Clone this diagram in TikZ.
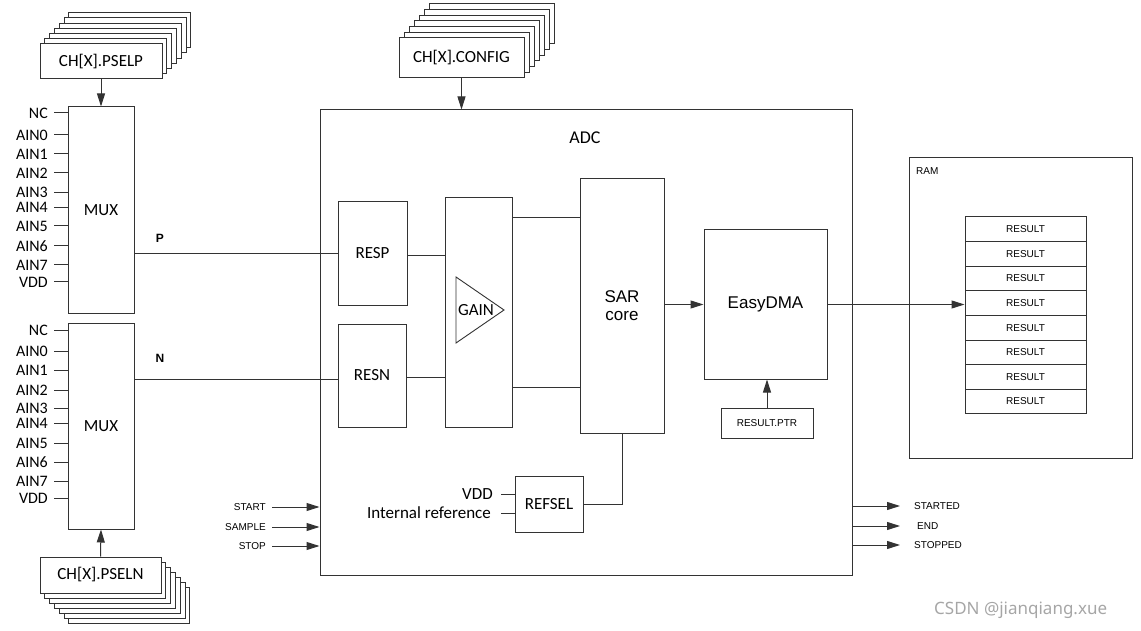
\documentclass[tikz,border=0pt]{standalone}
\usepackage{fontspec}
\setmainfont{Carlito}
\newfontfamily\arialf{Liberation Sans}
\newfontfamily\wmfont{Noto Sans}
\usetikzlibrary{arrows.meta}
\begin{document}
\begin{tikzpicture}[x=1pt,y=-1pt,
  box/.style={draw=black!80, line width=1pt, fill=white, inner sep=0pt, font=\fontsize{17}{20}\selectfont},
  wire/.style={draw=black!80, line width=1pt},
  arr/.style={wire, -{Triangle[length=13pt,width=8pt]}},
  pin/.style={anchor=east, inner sep=0pt, font=\fontsize{16}{19}\selectfont},
  sm/.style={inner sep=0pt, font=\arialf\fontsize{10}{12}\selectfont},
  big/.style={font=\arialf\fontsize{17}{20}\selectfont},
]
\useasboundingbox (0,0) rectangle (1141,631);

% ---- stacks
\foreach \k in {6,5,4,3,2,1}
  \node[box, minimum width=122pt, minimum height=35pt] (pselpb\k) at ({101+4.8*\k},{61.5-5.2*\k}) {};
\node[box, minimum width=122pt, minimum height=35pt] (pselp) at (101,61.5) {CH[X].PSELP};

\foreach \k in {6,5,4,3,2,1}
  \node[box, minimum width=121pt, minimum height=36pt] (pselnb\k) at ({100.5+4.8*\k},{575+5*\k}) {};
\node[box, minimum width=121pt, minimum height=36pt] (pseln) at (100.5,575) {CH[X].PSELN};

\foreach \k in {6,5,4,3,2,1}
  \node[box, minimum width=125pt, minimum height=40pt] (cfgb\k) at ({461.5+5*\k},{58-5.7*\k}) {};
\node[box, minimum width=125pt, minimum height=40pt] (cfg) at (461.5,58) {CH[X].CONFIG};

% ---- MUXes
\node[box, minimum width=66pt, minimum height=206pt] (mux1) at (101,210) {MUX};
\node[box, minimum width=66pt, minimum height=206pt] (mux2) at (101,426) {MUX};
\draw[arr] (pselp.south) -- (mux1.north);
\draw[arr] (pseln.north) -- (mux2.south);

\foreach \t/\y [count=\i] in {NC/113, AIN0/135, AIN1/154, AIN2/173, AIN3/192.5, AIN4/207.5, AIN5/226, AIN6/246, AIN7/265, VDD/282}{
  \node[pin] (pa\i) at (48,\y) {\t};
  \draw[wire] ([xshift=6pt]pa\i.east) -- (pa\i.east -| mux1.west);
}
\foreach \t/\y [count=\i] in {NC/330, AIN0/351, AIN1/370, AIN2/390, AIN3/408.5, AIN4/423.5, AIN5/443, AIN6/462, AIN7/481, VDD/498}{
  \node[pin] (pb\i) at (48,\y) {\t};
  \draw[wire] ([xshift=6pt]pb\i.east) -- (pb\i.east -| mux2.west);
}

% ---- ADC
\node[box, minimum width=532pt, minimum height=465pt] (adc) at (586,342.5) {};
\node[font=\fontsize{18}{21}\selectfont, inner sep=0pt] (adclbl) at (585,138) {ADC};
\draw[arr] (cfg.south) -- (cfg.south |- adc.north);

\node[box, minimum width=69pt, minimum height=103pt] (resp) at (372.5,253.5) {RESP};
\node[box, minimum width=68pt, minimum height=103pt] (resn) at (372,375.5) {RESN};
\node[box, minimum width=67pt, minimum height=229pt] (gain) at (478.5,312.5) {};
\coordinate (t1) at (456,277);
\coordinate (t2) at (504,310);
\coordinate (t3) at (456,343);
\draw[wire, line width=0.9pt] (t1) -- (t2) -- (t3) -- cycle;
\node[font=\fontsize{17}{20}\selectfont, inner sep=0pt] (gainlbl) at (476,310) {GAIN};
\node[box, big, minimum width=84pt, minimum height=254pt, align=center] (sar) at (622,306) {SAR\\[-2pt]core};
\node[box, big, minimum width=123pt, minimum height=149pt] (dma) at (765.5,304.5) {EasyDMA};
\node[box, sm, minimum width=92pt, minimum height=30pt] (ptr) at (767,423) {RESULT.PTR};
\node[box, minimum width=68pt, minimum height=56pt] (refsel) at (549,504) {REFSEL};

\node[big, font=\arialf\bfseries\fontsize{12}{14}\selectfont, inner sep=0pt] (plbl) at (160,238) {P};
\node[big, font=\arialf\bfseries\fontsize{12}{14}\selectfont, inner sep=0pt] (nlbl) at (160,358) {N};

\draw[wire] (mux1.east |- resp.west) -- (resp.west);
\draw[wire] (mux2.east |- {(0,379)}) -- (resn.west |- {(0,379)});
\draw[wire] (resp.east |- {(0,256)}) -- (gain.west |- {(0,256)});
\draw[wire] (resn.east |- {(0,377)}) -- (gain.west |- {(0,377)});
\draw[wire] (gain.east |- {(0,218)}) -- (sar.west |- {(0,218)});
\draw[wire] (gain.east |- {(0,387)}) -- (sar.west |- {(0,387)});
\draw[arr] (sar.east |- dma.west) -- (dma.west);
\draw[arr] (ptr.north) -- (ptr.north |- dma.south);
\draw[wire] (sar.south) |- (refsel.east);

\node[pin, font=\fontsize{17}{20}\selectfont] (rvdd) at (493,494) {VDD};
\node[pin, font=\fontsize{17}{20}\selectfont] (rint) at (491,513) {Internal reference};
\draw[wire] ([xshift=8pt]rvdd.east) -- (rvdd.east -| refsel.west);
\draw[wire] ([xshift=10pt]rint.east) -- (rint.east -| refsel.west);

% ---- tasks and events
\foreach \t/\y/\n in {START/507/st, SAMPLE/527/sa, STOP/546/sp}{
  \node[sm, anchor=east] (\n) at (266,\y) {\t};
  \draw[arr] ([xshift=6pt]\n.east) -- (\n.east -| adc.west);
}
\foreach \t/\y/\n/\x in {STARTED/506/ev1/914, END/526/ev2/917, STOPPED/545/ev3/914}{
  \node[sm, anchor=west] (\n) at (\x,\y) {\t};
  \draw[arr] (\n.west -| adc.east) -- (900,\y);
}

% ---- RAM
\node[box, minimum width=223pt, minimum height=300pt] (ram) at (1020.5,308) {};
\node[sm, anchor=west] (ramlbl) at (916,171) {RAM};
\foreach \i in {1,...,8}
  \node[box, sm, minimum width=121pt, minimum height=24.6pt] (r\i) at (1025.5,{217+24.6*(\i-0.5)}) {RESULT};
\draw[arr] (dma.east) -- (dma.east -| r4.west);

% ---- watermark
\node[font=\wmfont\fontsize{17}{20}\selectfont, text=black!35, anchor=west, inner sep=0pt] (wm) at (934,610) {CSDN @jianqiang.xue};
\end{tikzpicture}
\end{document}
